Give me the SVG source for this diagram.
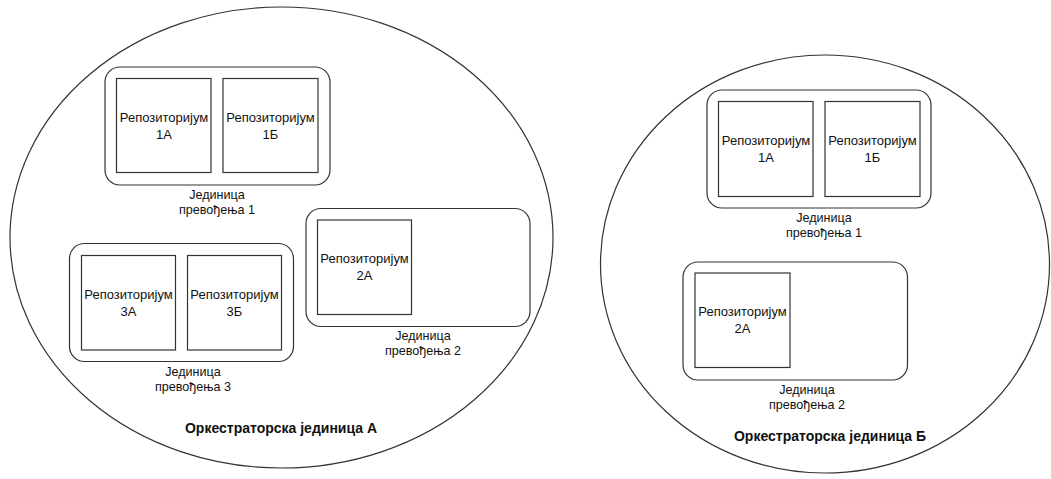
<svg xmlns="http://www.w3.org/2000/svg" width="1051" height="479" viewBox="0 0 1051 479">
<style>
.orch{fill:#fff;stroke:#333;stroke-width:1.2}
.unit{fill:#fff;stroke:#333;stroke-width:1.2}
.repo{fill:#fff;stroke:#333;stroke-width:1.2}
text{font-family:"Liberation Sans",Arial,sans-serif;font-size:13px;fill:#111;text-anchor:middle}
.l{font-size:12.6px}
.b{font-weight:bold;font-size:14px}
</style>
<rect width="1051" height="479" fill="#fff"/>
<g id="orchA">
<ellipse class="orch" cx="281.5" cy="237.5" rx="271.5" ry="230.5"/>
<text class="b" x="281" y="433">Оркестраторска јединица А</text>
</g>
<g id="orchB">
<ellipse class="orch" cx="825" cy="264" rx="224.5" ry="209"/>
<text class="b" x="830" y="441">Оркестраторска јединица Б</text>
</g>
<g id="unitA1">
<rect class="unit" x="105" y="67" width="225" height="118" rx="15"/>
<text class="l" x="217" y="198.5">Јединица</text>
<text class="l" x="217" y="213.5">превођења 1</text>
</g>
<g id="repoA1A">
<rect class="repo" x="116.5" y="78.5" width="94.5" height="94"/>
<text x="164" y="121.5">Репозиторијум</text>
<text x="164" y="138.5">1А</text>
</g>
<g id="repoA1B">
<rect class="repo" x="223" y="78.5" width="95" height="94"/>
<text x="270.5" y="121.5">Репозиторијум</text>
<text x="270.5" y="138.5">1Б</text>
</g>
<g id="unitA3">
<rect class="unit" x="69.5" y="243.5" width="224" height="118" rx="15"/>
<text class="l" x="193" y="375.5">Јединица</text>
<text class="l" x="193" y="390.5">превођења 3</text>
</g>
<g id="repoA3A">
<rect class="repo" x="81.5" y="255.5" width="94" height="94.5"/>
<text x="128.5" y="298.5">Репозиторијум</text>
<text x="128.5" y="315.5">3А</text>
</g>
<g id="repoA3B">
<rect class="repo" x="187.5" y="255.5" width="94" height="94.5"/>
<text x="234.5" y="298.5">Репозиторијум</text>
<text x="234.5" y="315.5">3Б</text>
</g>
<g id="unitA2">
<rect class="unit" x="306" y="208.5" width="224" height="118" rx="15"/>
<text class="l" x="423" y="340">Јединица</text>
<text class="l" x="423" y="355">превођења 2</text>
</g>
<g id="repoA2A">
<rect class="repo" x="317.5" y="220" width="94" height="94.5"/>
<text x="364.5" y="263">Репозиторијум</text>
<text x="364.5" y="280">2А</text>
</g>
<g id="unitB1">
<rect class="unit" x="707" y="90" width="224" height="118" rx="15"/>
<text class="l" x="824" y="221.5">Јединица</text>
<text class="l" x="824" y="236.5">превођења 1</text>
</g>
<g id="repoB1A">
<rect class="repo" x="718.5" y="101.5" width="94.5" height="95"/>
<text x="766" y="145">Репозиторијум</text>
<text x="766" y="162">1А</text>
</g>
<g id="repoB1B">
<rect class="repo" x="825" y="101.5" width="95" height="95"/>
<text x="872.5" y="145">Репозиторијум</text>
<text x="872.5" y="162">1Б</text>
</g>
<g id="unitB2">
<rect class="unit" x="683" y="262" width="224.5" height="118" rx="15"/>
<text class="l" x="807" y="393.5">Јединица</text>
<text class="l" x="807" y="408.5">превођења 2</text>
</g>
<g id="repoB2A">
<rect class="repo" x="695" y="273" width="95" height="94.5"/>
<text x="742.5" y="316">Репозиторијум</text>
<text x="742.5" y="333">2А</text>
</g>
<g id="connectors"></g>
</svg>
